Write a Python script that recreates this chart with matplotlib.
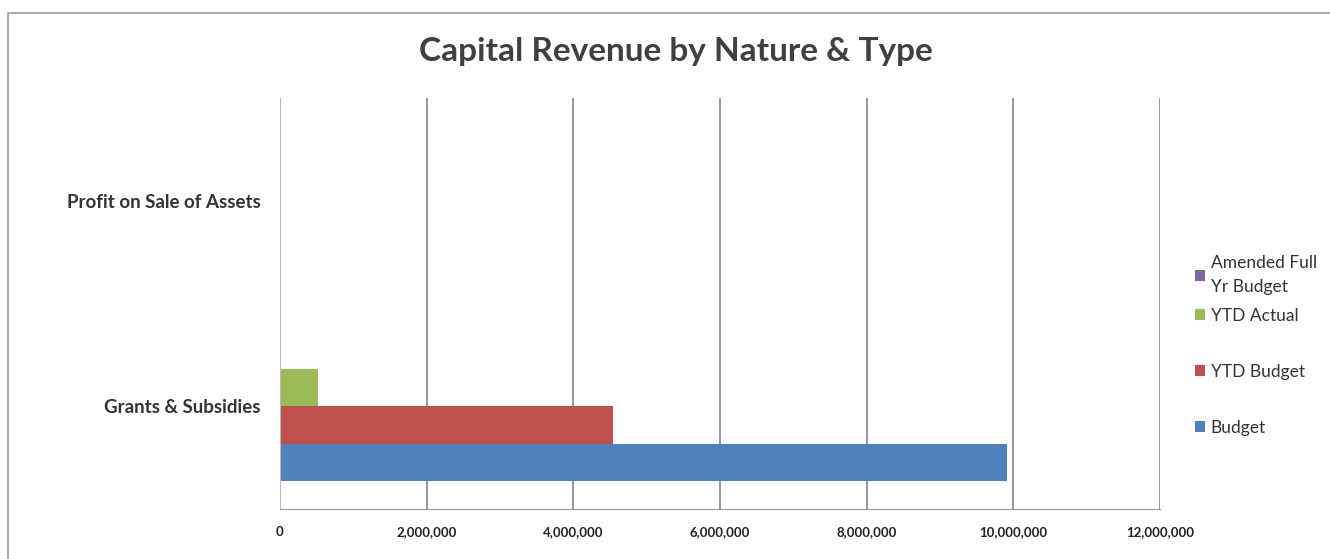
import numpy as np
import matplotlib.pyplot as plt
from matplotlib.patches import Rectangle

categories = ['Grants & Subsidies', 'Profit on Sale of Assets']
budget = [9910000, 0]
ytd_budget = [4545000, 0]
ytd_actual = [515000, 0]
amended_full_yr = [0, 0]

series = ['Budget', 'YTD Budget', 'YTD Actual', 'Amended Full\nYr Budget']
colors = ['#4F81BD', '#C0504D', '#9BBB59', '#8064A2']
x_ticks = [0, 2000000, 4000000, 6000000, 8000000, 10000000, 12000000]

plt.rcParams['font.family'] = ['Lato', 'DejaVu Sans']

fig = plt.figure(figsize=(13.3, 5.59), dpi=100)
fig.patches.append(Rectangle((8 / 1330, -0.01), 1.05, 1 - 13 / 559 + 0.01,
                             transform=fig.transFigure, fill=False,
                             edgecolor='#9a9a9a', linewidth=1.2))
ax = fig.add_axes([280 / 1330, 1 - 509 / 559, 880 / 1330, 411 / 559])

y = np.arange(len(categories))
h = 0.183
values = [budget, ytd_budget, ytd_actual, amended_full_yr]
for i, (vals, name, c) in enumerate(zip(values, series, colors)):
    ax.barh(y + (i - 1.5) * h, vals, height=h, color=c, label=name)

ax.set_xlim(0, 12000000)
ax.set_ylim(-0.5, 1.5)
ax.set_xticks(x_ticks)
ax.set_xticklabels(['{:,}'.format(t) for t in x_ticks], fontsize=9.5,
                   fontweight='bold', color='#222222')
ax.set_yticks(y)
ax.set_yticklabels(categories, fontsize=13.5, fontweight='bold', color='#333333')
ax.tick_params(axis='both', length=0)
ax.tick_params(axis='x', pad=12)
ax.tick_params(axis='y', pad=14)
ax.grid(axis='x', color='#7a7a7a', linewidth=1.1)
ax.set_axisbelow(True)
for s in ['top', 'right']:
    ax.spines[s].set_visible(False)
ax.spines['left'].set_color('#bbbbbb')
ax.spines['bottom'].set_color('#999999')

fig.text(0.5085, 1 - 52 / 559, 'Capital Revenue by Nature & Type', ha='center',
         va='center', fontsize=24, fontweight='bold', color='#404040')

# legend: Excel stacks the entries in reverse order, the two-line one on top
handles, labels = ax.get_legend_handles_labels()
leg_kw = dict(frameon=False, fontsize=12.5, handlelength=0.6, handleheight=0.6,
              handletextpad=0.3, borderaxespad=0, borderpad=0)
leg_top = fig.legend(handles[3:], labels[3:], loc='center left',
                     bbox_to_anchor=(1195 / 1330, 1 - 275 / 559), **leg_kw)
leg_rest = fig.legend(handles[2::-1], labels[2::-1], loc='center left',
                      bbox_to_anchor=(1195 / 1330, 1 - 372 / 559),
                      labelspacing=2.3, **leg_kw)
for leg in (leg_top, leg_rest):
    for t in leg.get_texts():
        t.set_color('#333333')
        t.set_linespacing(1.6)

fig.savefig('out.png', dpi=100)
